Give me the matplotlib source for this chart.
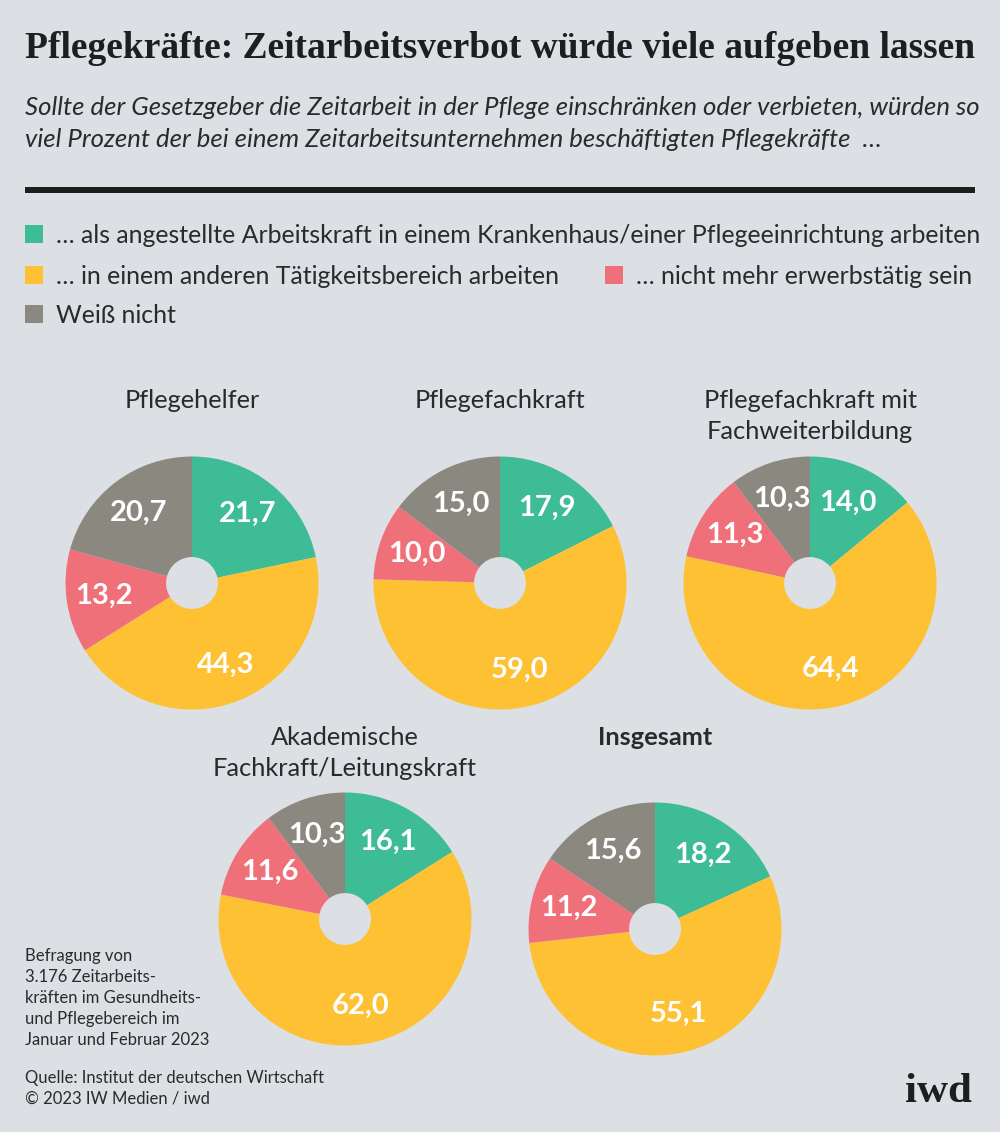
import matplotlib.pyplot as plt
from matplotlib.patches import Rectangle

W, H = 1000, 1132

# Daten (Prozent)
gruppen = ["Pflegehelfer", "Pflegefachkraft", "Pflegefachkraft mit\nFachweiterbildung",
           "Akademische\nFachkraft/Leitungskraft", "Insgesamt"]
krankenhaus = [21.7, 17.9, 14.0, 16.1, 18.2]
anderer_bereich = [44.3, 59.0, 64.4, 62.0, 55.1]
nicht_erwerbstaetig = [13.2, 10.0, 11.3, 11.6, 11.2]
weiss_nicht = [20.7, 15.0, 10.3, 10.3, 15.6]

legende = ["… als angestellte Arbeitskraft in einem Krankenhaus/einer Pflegeeinrichtung arbeiten",
           "… in einem anderen Tätigkeitsbereich arbeiten",
           "… nicht mehr erwerbstätig sein",
           "Weiß nicht"]

farben = ["#3dbc95", "#fec133", "#f0707a", "#8b8880"]
bg = "#dcdfe3"
dunkel = "#1e1e1e"
text_farbe = "#2a2a2a"

plt.rcParams['font.family'] = ['Lato', 'DejaVu Sans']


def fx(x):
    return x / W


def fy(y):
    return 1 - y / H


fig = plt.figure(figsize=(W / 100, H / 100), dpi=100, facecolor=bg)

# Titel und Unterzeile
fig.text(fx(25), fy(58), "Pflegekräfte: Zeitarbeitsverbot würde viele aufgeben lassen",
         family=['Liberation Serif', 'DejaVu Serif'], weight='bold', fontsize=27,
         color=dunkel, va='baseline')
fig.text(fx(25), fy(115), "Sollte der Gesetzgeber die Zeitarbeit in der Pflege einschränken oder verbieten, würden so",
         style='italic', fontsize=18.5, color=text_farbe, va='baseline')
fig.text(fx(25), fy(147), "viel Prozent der bei einem Zeitarbeitsunternehmen beschäftigten Pflegekräfte  …",
         style='italic', fontsize=18.5, color=text_farbe, va='baseline')

fig.add_artist(Rectangle((fx(25), fy(193)), fx(950), 6 / H, transform=fig.transFigure,
                         color=dunkel, lw=0))

# Legende
leg_pos = [(25, 243), (25, 284), (605, 284), (25, 323)]
for (x, y), txt, c in zip(leg_pos, legende, farben):
    fig.add_artist(Rectangle((fx(x), fy(y)), 18 / W, 18 / H, transform=fig.transFigure,
                             color=c, lw=0))
    fig.text(fx(x + 31), fy(y), txt, fontsize=17.9, color=text_farbe, va='baseline')

# Kreisdiagramme
zentren = [(192, 583), (500, 583), (810, 583), (345, 919), (655, 929)]
titel_y = [408, 408, 408, 745, 745]
R = 126.5

for i, name in enumerate(gruppen):
    cx, cy = zentren[i]
    ax = fig.add_axes([fx(cx - R), fy(cy + R), 2 * R / W, 2 * R / H])
    werte = [krankenhaus[i], anderer_bereich[i], nicht_erwerbstaetig[i], weiss_nicht[i]]
    labels = [f"{v:.1f}".replace('.', ',') for v in werte]
    wedges, texts = ax.pie(werte, colors=farben, startangle=90, counterclock=False,
                           labels=labels, labeldistance=0.70,
                           wedgeprops=dict(width=0.795, linewidth=0),
                           textprops=dict(color='white', weight='bold', fontsize=21))
    for t in texts:
        t.set_ha('center')
        t.set_va('center')
    ax.set_xlim(-1, 1)
    ax.set_ylim(-1, 1)
    ax.set_aspect('equal')
    ax.axis('off')

    zeilen = name.split("\n")
    for k, z in enumerate(zeilen):
        fig.text(fx(cx), fy(titel_y[i] + 31 * k), z, ha='center', va='baseline',
                 fontsize=18.3, color=text_farbe,
                 weight='bold' if name == "Insgesamt" else 'normal')

# Fußnoten
notiz = ["Befragung von", "3.176 Zeitarbeits-", "kräften im Gesundheits-",
         "und Pflegebereich im", "Januar und Februar 2023"]
for k, z in enumerate(notiz):
    fig.text(fx(25), fy(961 + 21 * k), z, fontsize=12, color=text_farbe, va='baseline')
fig.text(fx(25), fy(1083), "Quelle: Institut der deutschen Wirtschaft", fontsize=12,
         color=text_farbe, va='baseline')
fig.text(fx(25), fy(1103), "© 2023 IW Medien / iwd", fontsize=12, color=text_farbe,
         va='baseline')
fig.text(fx(972), fy(1102), "iwd", family=['Liberation Serif', 'DejaVu Serif'], weight='bold',
         fontsize=31, color=dunkel, ha='right', va='baseline')

fig.savefig("out.png", dpi=100, facecolor=bg)
